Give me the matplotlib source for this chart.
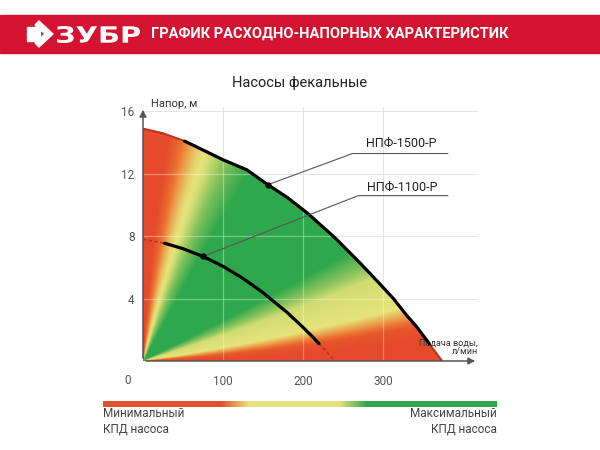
import numpy as np
import matplotlib.pyplot as plt
from matplotlib.colors import LinearSegmentedColormap
from matplotlib.patches import Polygon, Rectangle, PathPatch
from matplotlib.textpath import TextPath
from matplotlib.font_manager import FontProperties
from matplotlib.transforms import Affine2D, IdentityTransform

# ---- data ----
# НПФ-1500-Р: flow (л/мин) vs head (м)
q_1500 = [0, 25, 52, 100, 130, 156, 180, 205, 240, 271, 295, 313, 330, 342, 358, 374]
h_1500 = [14.9, 14.6, 14.1, 12.9, 12.25, 11.3, 10.5, 9.5, 7.9, 6.3, 5.0, 4.0, 2.9, 2.2, 1.1, 0]
# НПФ-1100-Р
q_1100 = [0, 27, 50, 75, 100, 125, 149, 180, 200, 213, 220, 240]
h_1100 = [7.8, 7.55, 7.2, 6.7, 6.07, 5.29, 4.42, 3.12, 2.16, 1.5, 1.11, 0]

pump_names = ['НПФ-1500-Р', 'НПФ-1100-Р']
x_ticks = [100, 200, 300]
y_ticks = [4, 8, 12, 16]

# efficiency bands by angle from origin (deg) -> 0 red .. 0.5 yellow .. 1 green
band_angle = [0, 3, 5, 8, 17, 21, 26, 62, 68, 74, 78, 81, 84, 87, 90]
band_eff = [0, 0.05, 0.25, 0.5, 0.55, 0.75, 1, 1, 0.8, 0.55, 0.45, 0.3, 0.12, 0, 0]

RED = '#e54b2a'
YELLOW = '#e6e37a'
GREEN = '#2fa84d'
BANNER = '#d3132f'

plt.rcParams['font.family'] = ['Roboto', 'DejaVu Sans']

fig = plt.figure(figsize=(6, 4.5), dpi=100)

def fy(px):  # pixel row from top -> figure fraction
    return 1 - px / 450

# red banner with logo
fig.patches.append(Rectangle((0, fy(53)), 1, 38 / 450, transform=fig.transFigure,
                             color=BANNER, zorder=0))
icon_px = [(39, 21), (53, 34), (39, 47), (35, 43), (45, 34), (35, 25)]
fig.patches.append(Polygon([(x / 600, fy(y)) for x, y in icon_px], closed=True,
                           color='white', transform=fig.transFigure))
for yy in (29, 34, 39):
    fig.patches.append(Rectangle((27 / 600, fy(yy + 1.5)), 13 / 600, 3 / 450,
                                 transform=fig.transFigure, color='white'))

# wide logo lettering, stretched into its box (pixels)
logo = TextPath((0, 0), 'ЗУБР', size=20, prop=FontProperties(family='DejaVu Sans', weight='bold'))
bb = logo.get_extents()
x0, x1, top, bottom = 57, 140, 26, 43
fit = (Affine2D().translate(-bb.x0, -bb.y0)
       .scale((x1 - x0) / bb.width, (bottom - top) / bb.height)
       .translate(x0, 450 - bottom))
fig.patches.append(PathPatch(fit.transform_path(logo), color='white', lw=0,
                             transform=IdentityTransform()))

fig.text(330 / 600, fy(34), 'ГРАФИК РАСХОДНО-НАПОРНЫХ ХАРАКТЕРИСТИК', color='white',
         fontsize=10.5, fontweight='bold', va='center', ha='center')

fig.text(300 / 600, fy(83), 'Насосы фекальные', fontsize=10.5, color='#222222',
         ha='center', va='center')

# main chart
ax = fig.add_axes([143 / 600, 89 / 450, 335 / 600, 254 / 450])
px_q = 0.8    # pixels per л/мин
px_h = 15.6   # pixels per m

qg = np.linspace(0, 380, 500)
hg = np.linspace(0, 15.2, 400)
Q, H = np.meshgrid(qg, hg)
psi = np.degrees(np.arctan2(H * px_h, Q * px_q))
r = np.hypot(H * px_h, Q * px_q)
psi_eff = np.clip(45 + (psi - 45) * (1 + 0.1 * r / 250), 0, 90)
eff = np.interp(psi_eff, band_angle, band_eff)

cmap = LinearSegmentedColormap.from_list(
    'kpd', [(0, RED), (0.2, '#ec7a34'), (0.5, YELLOW), (0.72, '#8cc45e'), (1, GREEN)])
im = ax.imshow(eff, extent=(0, 380, 0, 15.2), origin='lower', cmap=cmap, vmin=0, vmax=1,
               aspect='auto', interpolation='bilinear', zorder=1)
region = Polygon(np.column_stack([q_1500 + [0], h_1500 + [0]]), closed=True,
                 transform=ax.transData, facecolor='none', edgecolor='none')
ax.add_patch(region)
im.set_clip_path(region)

# grid: grey on white, faint white over colour
for xv in x_ticks:
    ax.axvline(xv, color='#e4e4e4', lw=0.7, zorder=0)
    ln = ax.axvline(xv, color='white', lw=0.9, alpha=0.35, zorder=2)
    ln.set_clip_path(region)
for yv in y_ticks:
    ax.axhline(yv, color='#e4e4e4', lw=0.7, zorder=0)
    ln = ax.axhline(yv, color='white', lw=0.9, alpha=0.35, zorder=2)
    ln.set_clip_path(region)

# pump curves: black in the working range, faded red at the ends
ax.plot(q_1500[:3], h_1500[:3], color='#b8321e', lw=1.4, zorder=3)
ax.plot(q_1500[2:15], h_1500[2:15], color='black', lw=2.3, zorder=4, solid_capstyle='round')
ax.plot(q_1500[14:], h_1500[14:], color='#b8321e', lw=1.4, zorder=3)
ax.plot(q_1100[:2], h_1100[:2], color='#b8321e', lw=1.2, ls=(0, (2, 1.5)), zorder=3)
ax.plot(q_1100[1:11], h_1100[1:11], color='black', lw=2.3, zorder=4, solid_capstyle='round')
ax.plot(q_1100[10:], h_1100[10:], color='#b8321e', lw=1.2, ls=(0, (2, 1.5)), zorder=3)

# leader lines to the labels
leaders = [((q_1500[5], h_1500[5]), (262, 13.3), (323, 13.95)),
           ((q_1100[3], h_1100[3]), (269, 10.6), (324, 11.15))]
for name, (pt, knee, lab) in zip(pump_names, leaders):
    ax.plot([pt[0], knee[0], 381], [pt[1], knee[1], knee[1]], color='#555555', lw=0.8,
            zorder=5, clip_on=False)
    ax.plot(*pt, 'o', color='black', ms=3.5, zorder=6)
    ax.text(lab[0], lab[1], name, fontsize=9, color='#222222', ha='center', va='center')

# axes with arrows
ax.set_xlim(0, 335 / px_q)
ax.set_ylim(0, 254 / px_h)
for s in ax.spines.values():
    s.set_visible(False)
ax.annotate('', xy=(1, 0), xytext=(0, 0), xycoords='axes fraction',
            arrowprops=dict(arrowstyle='-|>', color='#555555', lw=1.1, mutation_scale=10))
ax.annotate('', xy=(0, 1), xytext=(0, 0), xycoords='axes fraction',
            arrowprops=dict(arrowstyle='-|>', color='#555555', lw=1.1, mutation_scale=10))
ax.set_xticks(x_ticks)
ax.set_yticks(y_ticks)
ax.tick_params(length=0, colors='#555555', labelsize=8.5)
ax.tick_params(axis='x', pad=10)
ax.tick_params(axis='y', pad=6)
ax.annotate('0', xy=(0, 0), xytext=(-15, -19), textcoords='offset pixels',
            fontsize=8.5, color='#555555', ha='center', va='center')
ax.text(0.025, 1.01, 'Напор, м', transform=ax.transAxes, fontsize=8, color='#333333',
        ha='left', va='center')
ax.text(1.0, 0.055, 'Подача воды,\nл/мин', transform=ax.transAxes, fontsize=6.5,
        color='#333333', ha='right', va='center', linespacing=0.95,
        multialignment='right')

# efficiency scale bar
cax = fig.add_axes([103 / 600, 43 / 450, 394 / 600, 6 / 450])
bar_cmap = LinearSegmentedColormap.from_list(
    'bar', [(0, '#e0522e'), (0.3, '#e0522e'), (0.37, YELLOW), (0.6, YELLOW),
            (0.67, GREEN), (1, GREEN)])
cax.imshow(np.linspace(0, 1, 256)[None, :], cmap=bar_cmap, aspect='auto',
           extent=(0, 1, 0, 1))
cax.axis('off')
fig.text(103 / 600, fy(421), 'Минимальный\nКПД насоса', fontsize=8.5, color='#444444',
         ha='left', va='center', linespacing=1.25)
fig.text(497 / 600, fy(421), 'Максимальный\nКПД насоса', fontsize=8.5, color='#444444',
         ha='right', va='center', linespacing=1.25, multialignment='right')

fig.savefig('out.png', dpi=100)
